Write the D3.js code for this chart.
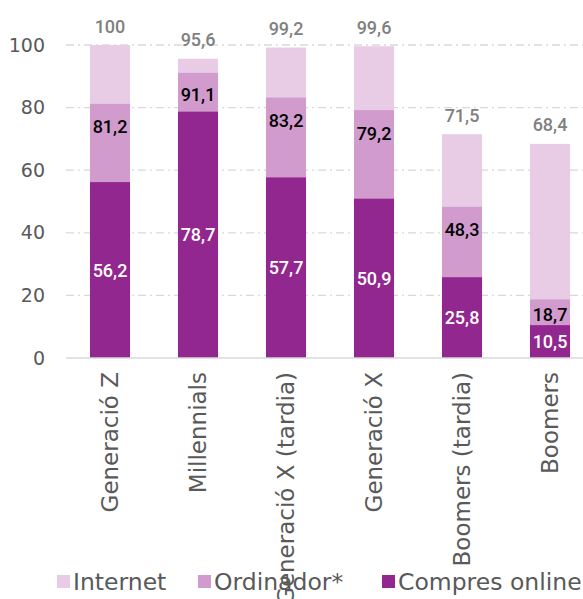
<!DOCTYPE html>
<html><head><meta charset="utf-8">
<script src="https://cdn.jsdelivr.net/npm/d3@7"></script>
<style>body{margin:0;background:#fff;overflow:hidden}</style>
</head><body>
<svg id="c" width="583" height="599"></svg>
<script>
const categories = ["Generació Z","Millennials","Generació X (tardia)","Generació X","Boomers (tardia)","Boomers"];
const internet = [100,95.6,99.2,99.6,71.5,68.4];
const ordinador = [81.2,91.1,83.2,79.2,48.3,18.7];
const compres = [56.2,78.7,57.7,50.9,25.8,10.5];
const yTicks = [0,20,40,60,80,100];
const seriesNames = ["Internet","Ordinador*","Compres online"];
const colors = ["#E8CCE6","#D19BCE","#92278F"];

const svg = d3.select("#c");
const axisFont = "'Century Gothic','URW Gothic','DejaVu Sans',sans-serif";
const valFont = "Roboto, 'Open Sans', sans-serif";
const x = d3.scaleBand().domain(categories).range([66,594]).paddingInner(0.545).paddingOuter(0.2725);
const y = d3.scaleLinear().domain([0,100]).range([358,45]);
const fmt = v => d3.format(".1f")(v).replace(".",",").replace(",0","");

// gridlines
svg.append("g").selectAll("line").data(yTicks.filter(d=>d>0)).join("line")
  .attr("x1",66).attr("x2",583).attr("y1",d=>y(d)).attr("y2",d=>y(d))
  .attr("stroke","#d9d9d9").attr("stroke-width",1.3).attr("stroke-dasharray","8,4,2,4");
// y axis labels
const yAxis = d3.axisLeft(y).tickValues(yTicks).tickSize(0).tickPadding(0).tickFormat(d=>d);
const ya = svg.append("g").attr("transform","translate(45,0)").call(yAxis);
ya.select(".domain").remove();
ya.selectAll("text").attr("font-family",axisFont).attr("font-size",19).attr("fill","#595959");

const series = [internet, ordinador, compres];
series.forEach((s,i)=>{
  svg.append("g").selectAll("rect").data(categories).join("rect")
    .attr("x",d=>x(d)).attr("width",x.bandwidth())
    .attr("y",(d,j)=>y(s[j])).attr("height",(d,j)=>y(0)-y(s[j]))
    .attr("fill",colors[i]);
});
// baseline
svg.append("line").attr("x1",66).attr("x2",583).attr("y1",y(0)).attr("y2",y(0)).attr("stroke","#d9d9d9").attr("stroke-width",1.5);

// labels
const lab = svg.append("g").attr("font-family",valFont).attr("text-anchor","middle").attr("dominant-baseline","central");
lab.selectAll(".t").data(categories).join("text")
  .attr("x",d=>x(d)+x.bandwidth()/2).attr("y",(d,j)=>y(internet[j])-19)
  .attr("font-size",18).attr("font-weight",500).attr("fill","#808080").text((d,j)=>fmt(internet[j]));
lab.selectAll(".o").data(categories).join("text")
  .attr("x",d=>x(d)+x.bandwidth()/2)
  .attr("y",(d,j)=>Math.min(y(ordinador[j])+23,(y(ordinador[j])+y(compres[j]))/2+2))
  .attr("font-size",18).attr("font-weight",500).attr("fill","#000").text((d,j)=>fmt(ordinador[j]));
lab.selectAll(".c").data(categories).join("text")
  .attr("x",d=>x(d)+x.bandwidth()/2)
  .attr("y",(d,j)=>(y(compres[j])+y(0))/2)
  .attr("font-size",18).attr("font-weight",500).attr("fill","#fff").text((d,j)=>fmt(compres[j]));

// category labels
svg.append("g").selectAll("text").data(categories).join("text")
  .attr("transform",d=>`translate(${x(d)+x.bandwidth()/2},372) rotate(-90)`)
  .attr("text-anchor","end").attr("dominant-baseline","central")
  .attr("font-family",axisFont).attr("font-size",23).attr("fill","#595959").text(d=>d);

// legend
const lx = [57,198,382];
const lg = svg.append("g");
seriesNames.forEach((n,i)=>{
  lg.append("rect").attr("x",lx[i]).attr("y",575).attr("width",13).attr("height",13).attr("fill",colors[i]);
  lg.append("text").attr("x",lx[i]+16).attr("y",582).attr("dominant-baseline","central")
    .attr("font-family",axisFont).attr("font-size",23.5).attr("fill","#595959").text(n);
});
</script>
</body></html>
